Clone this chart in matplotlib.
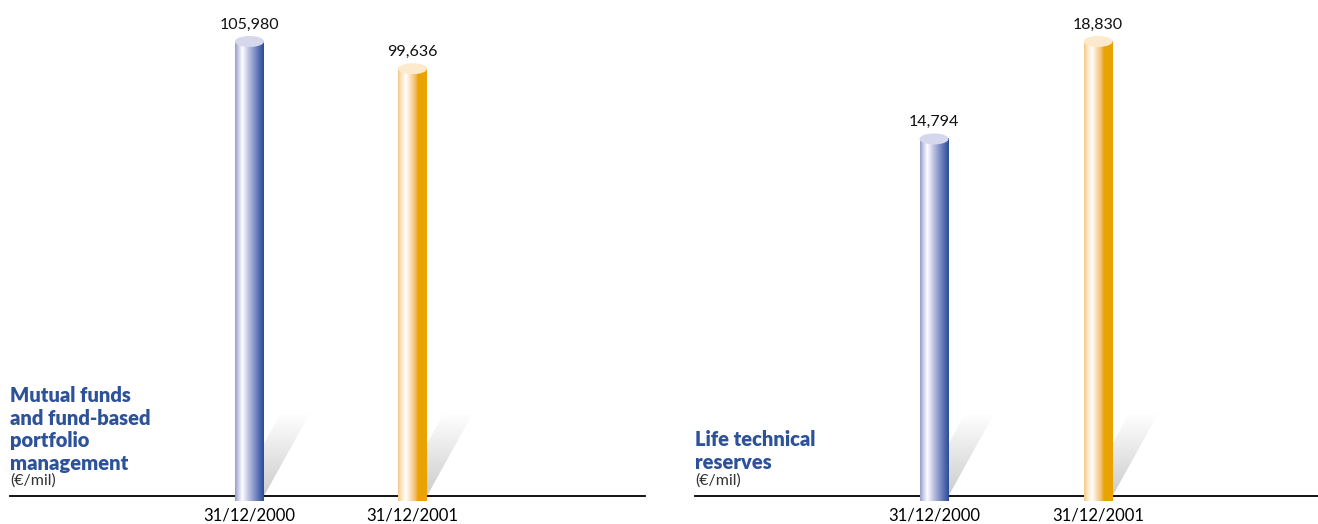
import numpy as np
import matplotlib
matplotlib.use("Agg")
from matplotlib import pyplot as plt
from matplotlib.patches import Ellipse, PathPatch, Polygon
from matplotlib.path import Path

# Data
dates = ["31/12/2000", "31/12/2001"]
mf_values = [105980, 99636]
ltr_values = [14794, 18830]
mf_title = "Mutual funds\nand fund-based\nportfolio\nmanagement"
ltr_title = "Life technical\nreserves"
unit = "(€/mil)"

plt.rcParams['font.family'] = ['Lato', 'DejaVu Sans']

W, H = 1318, 524
BASE = 496          # baseline, px from top
AX_H = 496          # axes height in px
BAR_PX = 454.5      # px height of the biggest bar
BAR_W_PX = 29
ELL_PX = 11
SH_DX, SH_H = 46, 83

blue_stops = [(0.0, (0.60, 0.62, 0.81)), (0.12, (0.80, 0.81, 0.91)), (0.25, (1.0, 1.0, 1.0)),
              (0.42, (0.80, 0.81, 0.91)), (0.62, (0.58, 0.62, 0.81)), (0.82, (0.35, 0.44, 0.70)),
              (1.0, (0.17, 0.30, 0.60))]
orange_stops = [(0.0, (0.96, 0.79, 0.55)), (0.12, (0.99, 0.90, 0.76)), (0.27, (1.0, 1.0, 1.0)),
                (0.45, (0.98, 0.86, 0.68)), (0.60, (0.95, 0.74, 0.40)), (0.70, (0.91, 0.64, 0.02)),
                (1.0, (0.91, 0.64, 0.0))]
blue_top = "#d6d7ec"
orange_top = "#fde9cc"
title_col = "#2d5299"


def gradient(stops, n=64):
    t = np.linspace(0, 1, n)
    pos = [s[0] for s in stops]
    rgb = np.stack([np.interp(t, pos, [s[1][k] for s in stops]) for k in range(3)], axis=-1)
    return rgb[np.newaxis, :, :]


def make_axes(fig, left_px, right_px, bar_px, ymax_val):
    ax = fig.add_axes([left_px / W, (H - BASE) / H, (right_px - left_px) / W, AX_H / H])
    spacing = bar_px[1] - bar_px[0]
    ax.set_xlim(-(bar_px[0] - left_px) / spacing, (right_px - bar_px[0]) / spacing)
    ax.set_ylim(0, ymax_val * AX_H / BAR_PX)
    for s in ["top", "left", "right"]:
        ax.spines[s].set_visible(False)
    ax.spines["bottom"].set_linewidth(1.3)
    ax.set_yticks([])
    ax.set_xticks(range(len(dates)))
    ax.set_xticklabels(dates, fontsize=12)
    ax.tick_params(axis="x", length=0, pad=8)
    ax.patch.set_alpha(0)
    return ax, spacing


def cylinder(ax, x, val, spacing, stops, top_col):
    ypx = ax.get_ylim()[1] / AX_H
    w = BAR_W_PX / spacing
    eh = ELL_PX * ypx
    x0, x1 = x - w / 2, x + w / 2

    # shadow
    dx = SH_DX / spacing
    sh = SH_H * ypx
    poly = Polygon([(x0, 0), (x1, 0), (x1 + dx, sh), (x0 + dx, sh)], closed=True,
                   transform=ax.transData, facecolor="none", edgecolor="none")
    ax.add_patch(poly)
    g = np.linspace(0.80, 1.0, 64)[:, np.newaxis]
    shade = np.repeat(g[:, :, np.newaxis], 3, axis=2)
    im = ax.imshow(shade, extent=[x0, x1 + dx, 0, sh], origin="lower", aspect="auto", zorder=1)
    im.set_clip_path(poly)

    # body with rounded bottom
    th = np.linspace(np.pi, 2 * np.pi, 40)
    arc = np.column_stack([x + w / 2 * np.cos(th), eh / 2 * np.sin(th)])
    verts = np.vstack([[[x0, val]], [[x0, 0]], arc, [[x1, val]], [[x0, val]]])
    codes = [Path.MOVETO] + [Path.LINETO] * (len(verts) - 2) + [Path.CLOSEPOLY]
    body = PathPatch(Path(verts, codes), transform=ax.transData, facecolor="none", edgecolor="none")
    ax.add_patch(body)
    im2 = ax.imshow(gradient(stops), extent=[x0, x1, -eh / 2, val], aspect="auto", zorder=3,
                    interpolation="bilinear")
    im2.set_clip_path(body)
    im2.set_clip_on(False)

    ax.add_patch(Ellipse((x, val), w, eh, facecolor=top_col, edgecolor="none", zorder=4))
    ax.annotate(f"{val:,}", xy=(x, val), xytext=(0, 7), textcoords="offset points",
                ha="center", va="bottom", fontsize=11.5, color="#111111")


fig = plt.figure(figsize=(W / 100, H / 100), dpi=100)

ax1, sp1 = make_axes(fig, 10, 645, (249.5, 412.5), mf_values[0])
ax2, sp2 = make_axes(fig, 695, 1318, (934, 1098), ltr_values[1])

for ax, vals, sp in [(ax1, mf_values, sp1), (ax2, ltr_values, sp2)]:
    cylinder(ax, 0, vals[0], sp, blue_stops, blue_top)
    cylinder(ax, 1, vals[1], sp, orange_stops, orange_top)

fig.text(10 / W, 1 - 386 / H, mf_title, ha="left", va="top", fontsize=14.5, fontweight="heavy",
         color=title_col, linespacing=1.22)
fig.text(10 / W, 1 - 473 / H, unit, ha="left", va="top", fontsize=11.5, color="#333333")
fig.text(695 / W, 1 - 430 / H, ltr_title, ha="left", va="top", fontsize=14.5, fontweight="heavy",
         color=title_col, linespacing=1.22)
fig.text(695 / W, 1 - 473 / H, unit, ha="left", va="top", fontsize=11.5, color="#333333")

fig.savefig("out.png", dpi=100)
